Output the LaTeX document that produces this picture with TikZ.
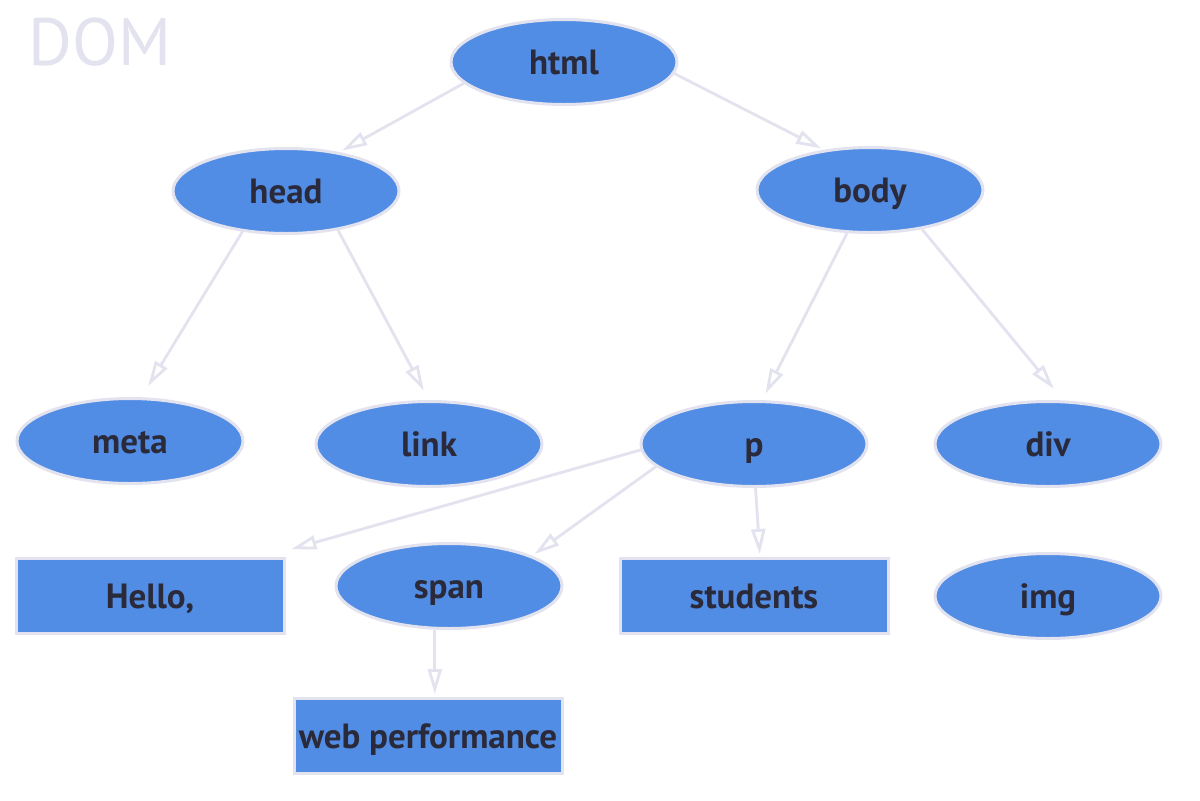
\documentclass[tikz,border=0pt]{standalone}
\usepackage{fontspec}
\setmainfont{PT Sans}
\usetikzlibrary{arrows.meta,shapes.geometric}
\definecolor{nodefill}{HTML}{528DE5}
\definecolor{lav}{HTML}{E3E3F0}
\definecolor{txt}{HTML}{2A2A3A}
\tikzset{
  x=0.5pt, y=-0.5pt,
  elnode/.style={ellipse, draw=lav, line width=1.5pt, fill=nodefill, minimum width=113pt, minimum height=42.5pt, inner sep=0pt, text=txt, text height=13pt, text depth=1pt, font=\fontsize{17.5}{20}\selectfont\bfseries},
  rectnode/.style={rectangle, draw=lav, line width=1.5pt, fill=nodefill, minimum width=134pt, minimum height=37.5pt, inner sep=0pt, text=txt, text height=13pt, text depth=1pt, font=\fontsize{17.5}{20}\selectfont\bfseries},
  edge/.style={draw=lav, line width=1.4pt, -{Triangle[open, length=12.5pt, width=7pt]}, shorten >=1.5pt}
}
\begin{document}
\begin{tikzpicture}
\useasboundingbox[fill=white] (0,0) rectangle (1200,800);
\node[anchor=west, text=lav, font=\fontsize{33.5}{36}\selectfont, inner sep=0pt] (dom) at (28,42) {DOM};
\node[elnode] (html) at (564,62) {html};
\node[elnode] (head) at (286,191) {head};
\node[elnode] (body) at (870,190) {body};
\node[elnode] (meta) at (130,441) {meta};
\node[elnode] (link) at (429,444) {link};
\node[elnode] (p) at (754,444) {p};
\node[elnode] (div) at (1048,444) {div};
\node[rectnode] (hello) at (150,596) {Hello,};
\node[elnode] (span) at (449,586) {span};
\node[rectnode] (students) at (754,596) {students};
\node[elnode] (img) at (1048,596) {img};
\node[rectnode] (web) at (428,736) {web performance};

\draw[edge] (html.192) -- (head.36);
\draw[edge] (html.-6) -- (body.139);
\draw[edge] (head.223) -- ([shift={(0,-9)}]meta.69);
\draw[edge] (head.323) -- ([shift={(0,-7)}]link.95);
\draw[edge] (body.242) -- ([shift={(0,-4)}]p.77);
\draw[edge] (body.323) -- ([shift={(0,-9)}]div.80);
\draw[edge] (p.183) -- ([shift={(3,-7)}]hello.north east);
\draw[edge] (p.193) -- (span.20);
\draw[edge] (p.272) -- ([xshift=3]students.north);
\draw[edge] (span.252) -- (span.252 |- web.north);
\end{tikzpicture}
\end{document}
